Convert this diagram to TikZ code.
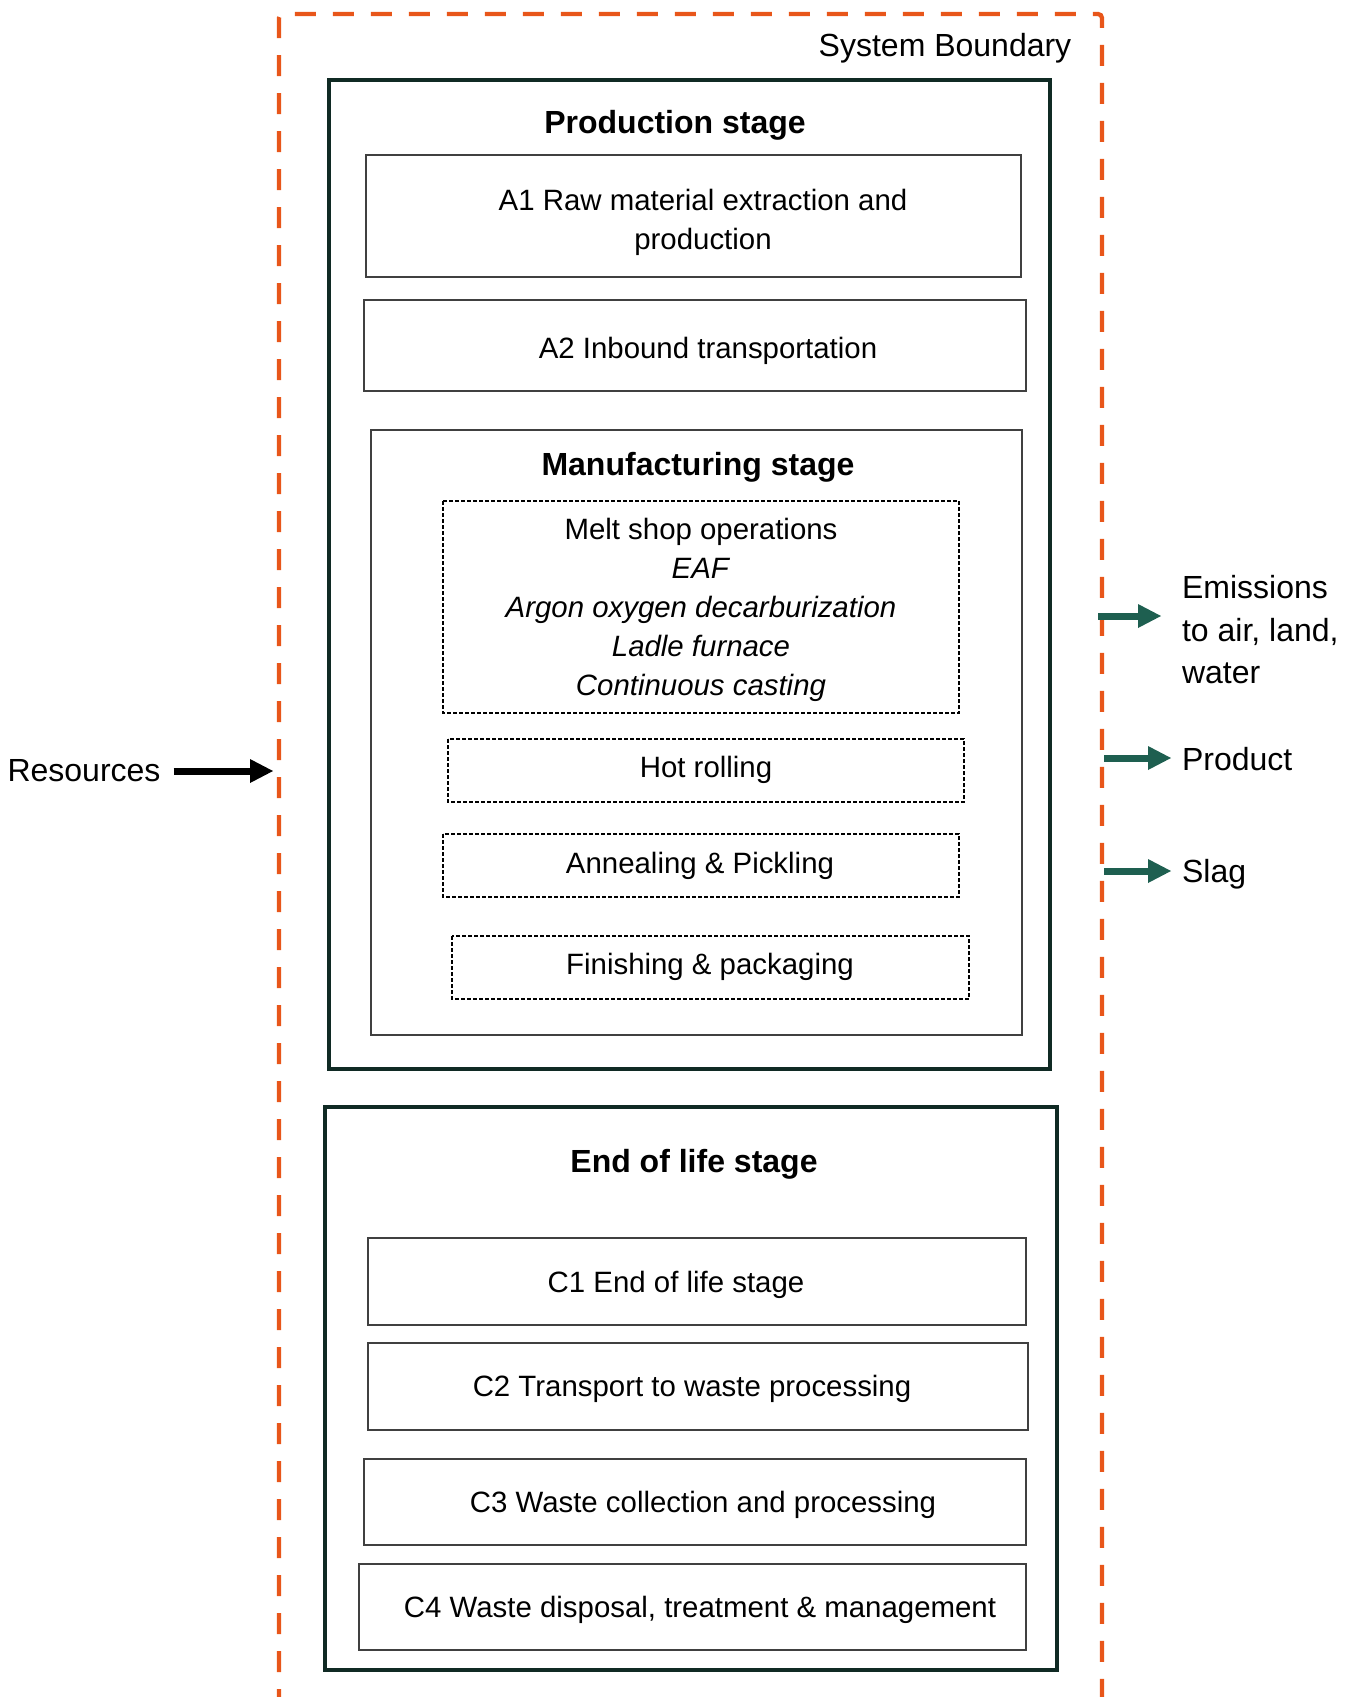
\documentclass[tikz,border=0pt]{standalone}
\usepackage{fontspec}
\setmainfont{Liberation Sans}
\usetikzlibrary{arrows.meta}

\definecolor{boundorange}{RGB}{232,86,26}
\definecolor{stagegreen}{RGB}{16,42,36}
\definecolor{flowgreen}{RGB}{30,95,80}

\tikzset{
  boundary/.style={draw=boundorange, line width=2.15pt, dash pattern=on 10.5pt off 8.5pt, rounded corners=2pt},
  stagebox/.style={draw=stagegreen, line width=2.2pt},
  stepbox/.style={draw=black!75, line width=0.6pt},
  opbox/.style={draw=black, line width=0.7pt, dash pattern=on 2pt off 1pt},
  txt/.style={font=\fontsize{16}{19.5}\selectfont, align=center, yshift=-1.5pt},
  steptxt/.style={font=\fontsize{14.7}{19.5}\selectfont, align=center, yshift=-1.5pt},
  headtxt/.style={font=\fontsize{16}{19.5}\selectfont\bfseries, align=center, yshift=-1.5pt},
  flow/.style={draw=flowgreen, line width=3.5pt, shorten >=2pt, -{Triangle[length=11.5pt, width=12pt, line width=0pt]}},
  inflow/.style={draw=black, line width=3.5pt, -{Triangle[length=11.5pt, width=12pt, line width=0pt]}},
}

\begin{document}
\begin{tikzpicture}[x=0.5pt, y=-0.5pt]
\def\xbl{279};
\def\xbr{1102};
\def\ybt{14};
\def\ybb{1710};

\useasboundingbox (0,0) rectangle (1356,1697);

% system boundary
\draw[boundary] (\xbl,\ybb) -- (\xbl,\ybt) -- (\xbr,\ybt) -- (\xbr,\ybb);
\node[txt] (sysb) at (945,45) {System Boundary};

% production stage
\draw[stagebox] (329,80) rectangle (1050,1069);
\node[headtxt] (prodhead) at (675,122) {Production stage};

\draw[stepbox] (366,155) rectangle (1021,277);
\node[steptxt] (a1) at (703,219) {A1 Raw material extraction and\\production};

\draw[stepbox] (364,300) rectangle (1026,391);
\node[steptxt] (a2) at (708,348) {A2 Inbound transportation};

% manufacturing stage
\draw[stepbox] (371,430) rectangle (1022,1035);
\node[headtxt] (manuhead) at (698,464) {Manufacturing stage};

\draw[opbox] (443,501) rectangle (959,713);
\node[steptxt] (melt) at (701,607) {Melt shop operations\\\textit{EAF}\\\textit{Argon oxygen decarburization}\\\textit{Ladle furnace}\\\textit{Continuous casting}};

\draw[opbox] (448,739) rectangle (964,802);
\node[steptxt] (hot) at (706,767) {Hot rolling};

\draw[opbox] (443,834) rectangle (959,897);
\node[steptxt] (anneal) at (700,863) {Annealing \& Pickling};

\draw[opbox] (452,936) rectangle (969,999);
\node[steptxt] (finish) at (710,964) {Finishing \& packaging};

% end of life stage
\draw[stagebox] (325,1107) rectangle (1057,1670);
\node[headtxt] (eolhead) at (694,1161) {End of life stage};

\draw[stepbox] (368,1238) rectangle (1026,1325);
\node[steptxt] (c1) at (676,1282) {C1 End of life stage};

\draw[stepbox] (368,1343) rectangle (1028,1430);
\node[steptxt] (c2) at (692,1386) {C2 Transport to waste processing};

\draw[stepbox] (364,1459) rectangle (1026,1545);
\node[steptxt] (c3) at (703,1502) {C3 Waste collection and processing};

\draw[stepbox] (359,1564) rectangle (1026,1650);
\node[steptxt] (c4) at (700,1607) {C4 Waste disposal, treatment \& management};

% inputs and outputs
\node[txt] (res) at (84,768) {Resources};
\coordinate (resin) at (273,769);
\draw[inflow] ([xshift=3pt]res.east) -- (res.east -| resin);

\node[txt, anchor=west, font=\fontsize{16}{21.25}\selectfont, align=left] (emis) at (1175,627) {Emissions\\to air, land,\\water};
\node[txt, anchor=west] (prod) at (1175,756) {Product};
\node[txt, anchor=west] (slag) at (1175,871) {Slag};

\coordinate (emout) at (1098,616);
\coordinate (prodout) at (1104,758);
\coordinate (slagout) at (1104,871);
\draw[flow] (emout) -- ([xshift=-5pt]emout -| emis.west);
\draw[flow] (prodout) -- (prodout -| prod.west);
\draw[flow] (slagout) -- (slagout -| slag.west);

\end{tikzpicture}
\end{document}
